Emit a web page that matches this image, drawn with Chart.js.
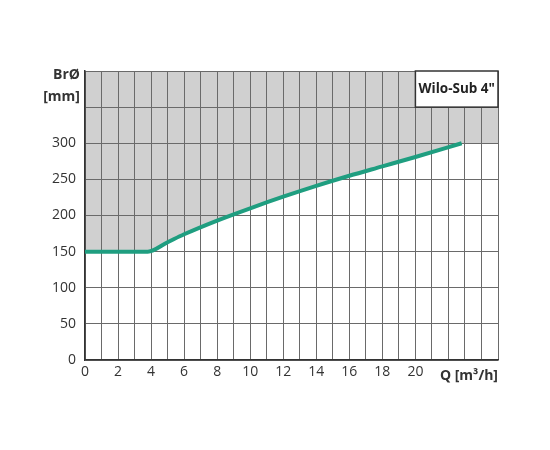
<!DOCTYPE html>
<html>
<head>
<meta charset="utf-8">
<script src="https://cdn.jsdelivr.net/npm/chart.js@4"></script>
<style>
  html, body { margin: 0; padding: 0; background: #fff; }
  #wrap { width: 550px; height: 450px; }
</style>
</head>
<body>
<div id="wrap"><canvas id="pumpChart"></canvas></div>
<script>
// ------------ DATA -------------
const flowQ = [0, 3.8, 5, 6, 8, 10, 12, 14, 16, 18, 20, 22.8];
const boreDia = [150, 150, 163, 174, 193, 210, 226, 241, 255, 268, 281, 300];
const xLabels = [0, 2, 4, 6, 8, 10, 12, 14, 16, 18, 20];
const yLabels = [0, 50, 100, 150, 200, 250, 300];
const xMax = 25;
const yMax = 400;

const green = '#1f9e80';
const shade = '#d0d0d0';
const gridGrey = '#6a6a6a';
const textColor = '#333333';
const fontMain = "'Open Sans', 'DejaVu Sans', sans-serif";

// grey area above the curve, continues at 300 up to the right edge
let shadeX = flowQ.concat([xMax]);
let shadeY = boreDia.concat([boreDia[boreDia.length - 1]]);

// ------------ TEXT + BOX PLUGIN -------------
const labelsPlugin = {
    id: 'labelsPlugin',
    afterDatasetsDraw(chart) {
        const ctx = chart.ctx;
        const x = chart.scales.x, y = chart.scales.y;
        ctx.save();
        // Wilo-Sub box
        let bx = x.getPixelForValue(20), by = y.getPixelForValue(400);
        let bw = x.getPixelForValue(25) - bx, bh = y.getPixelForValue(350) - by;
        ctx.fillStyle = '#fff';
        ctx.fillRect(bx, by, bw, bh);
        ctx.strokeStyle = '#333';
        ctx.lineWidth = 1.5;
        ctx.strokeRect(bx, by, bw, bh);
        ctx.fillStyle = '#222';
        ctx.font = "bold 13.5px " + fontMain;
        ctx.textAlign = 'center';
        ctx.textBaseline = 'middle';
        ctx.fillText('Wilo-Sub 4"', bx + bw / 2, by + bh / 2);

        // axis titles
        ctx.fillStyle = textColor;
        ctx.textAlign = 'right';
        ctx.font = "bold 14px " + fontMain;
        ctx.fillText('BrØ', 80, y.getPixelForValue(395));
        ctx.fillText('[mm]', 80, y.getPixelForValue(364));
        ctx.fillText('Q [m³/h]', x.getPixelForValue(25), y.getPixelForValue(0) + 16);
        ctx.restore();
    }
};

new Chart(document.getElementById('pumpChart'), {
    type: 'line',
    data: {
        datasets: [
            {
                data: shadeX.map((v, i) => ({ x: v, y: shadeY[i] })),
                borderWidth: 0,
                pointRadius: 0,
                backgroundColor: shade,
                fill: 'end'
            },
            {
                data: flowQ.map((v, i) => ({ x: v, y: boreDia[i] })),
                borderColor: green,
                borderWidth: 4,
                pointRadius: 0,
                fill: false,
                cubicInterpolationMode: 'monotone'
            }
        ]
    },
    plugins: [labelsPlugin],
    options: {
        responsive: true,
        maintainAspectRatio: false,
        animation: false,
        layout: { padding: { top: 71, right: 52, left: 0, bottom: 0 } },
        plugins: {
            legend: { display: false },
            tooltip: { enabled: false },
            filler: { drawTime: 'beforeDraw' }
        },
        scales: {
            x: {
                type: 'linear',
                min: 0,
                max: xMax,
                afterFit: (scale) => { scale.height = 90; },
                border: { color: '#333', width: 1.5 },
                grid: { color: gridGrey, lineWidth: 1, drawTicks: false },
                ticks: {
                    stepSize: 1,
                    padding: 4,
                    color: textColor,
                    font: { size: 14, family: fontMain },
                    maxRotation: 0,
                    autoSkip: false,
                    callback: (v) => xLabels.includes(v) ? String(v) : ''
                }
            },
            y: {
                min: 0,
                max: yMax,
                afterFit: (scale) => { scale.width = 85; },
                border: { color: '#333', width: 1.5 },
                grid: { color: gridGrey, lineWidth: 1, drawTicks: false },
                ticks: {
                    stepSize: 50,
                    padding: 9,
                    color: textColor,
                    font: { size: 14, family: fontMain },
                    callback: (v) => yLabels.includes(v) ? String(v) : ''
                }
            }
        }
    }
});
</script>
</body>
</html>
